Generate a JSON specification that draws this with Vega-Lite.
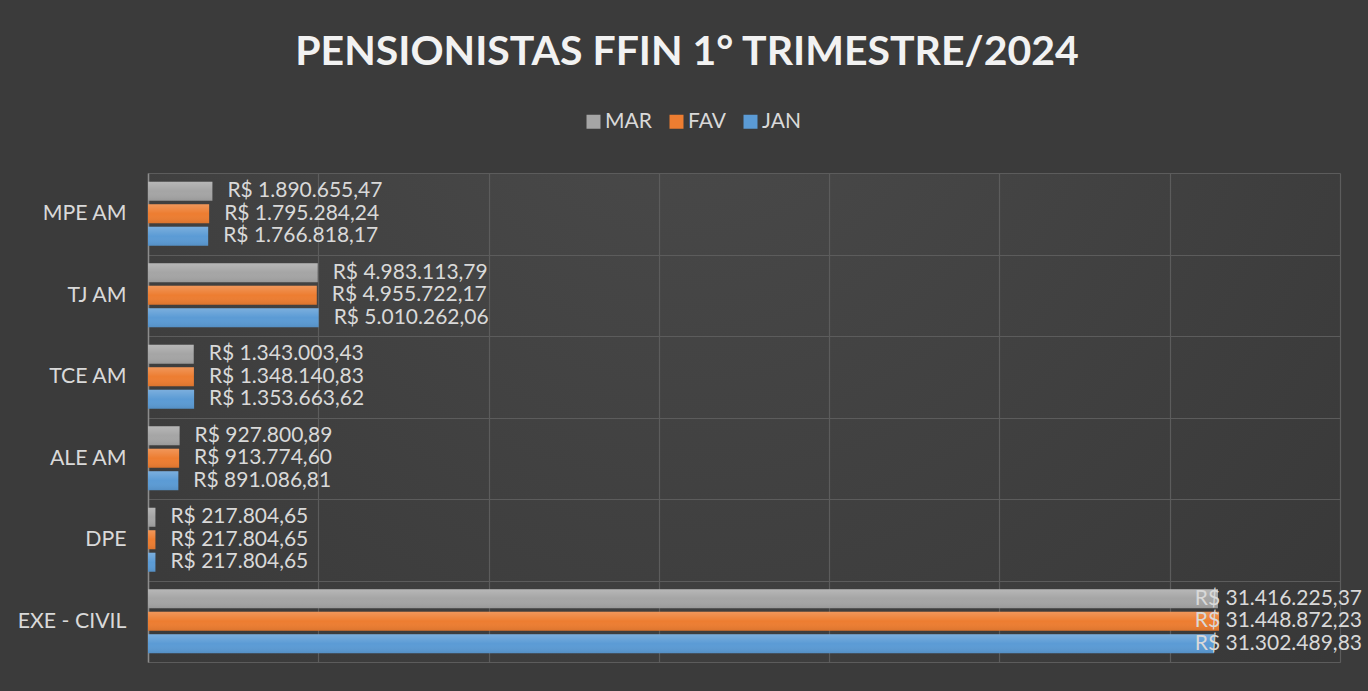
{
  "$schema": "https://vega.github.io/schema/vega-lite/v6.json",
  "width": 1192,
  "height": 489,
  "autosize": {"type": "none"},
  "padding": {"left": 148, "top": 173, "right": 28, "bottom": 29},
  "background": "#3b3b3b",
  "title": {
    "text": "PENSIONISTAS FFIN 1° TRIMESTRE/2024",
    "font": "Lato",
    "fontSize": 41,
    "fontWeight": "bold",
    "color": "#f2f2f2",
    "anchor": "middle",
    "frame": "group",
    "baseline": "alphabetic",
    "offset": 9,
    "dy": 4,
    "dx": -57
  },
  "data": {
    "values": [
      {"orgao": "MPE AM", "mes": "MAR", "valor": 1890655.47},
      {"orgao": "MPE AM", "mes": "FAV", "valor": 1795284.24},
      {"orgao": "MPE AM", "mes": "JAN", "valor": 1766818.17},
      {"orgao": "TJ AM", "mes": "MAR", "valor": 4983113.79},
      {"orgao": "TJ AM", "mes": "FAV", "valor": 4955722.17},
      {"orgao": "TJ AM", "mes": "JAN", "valor": 5010262.06},
      {"orgao": "TCE AM", "mes": "MAR", "valor": 1343003.43},
      {"orgao": "TCE AM", "mes": "FAV", "valor": 1348140.83},
      {"orgao": "TCE AM", "mes": "JAN", "valor": 1353663.62},
      {"orgao": "ALE AM", "mes": "MAR", "valor": 927800.89},
      {"orgao": "ALE AM", "mes": "FAV", "valor": 913774.60},
      {"orgao": "ALE AM", "mes": "JAN", "valor": 891086.81},
      {"orgao": "DPE", "mes": "MAR", "valor": 217804.65},
      {"orgao": "DPE", "mes": "FAV", "valor": 217804.65},
      {"orgao": "DPE", "mes": "JAN", "valor": 217804.65},
      {"orgao": "EXE - CIVIL", "mes": "MAR", "valor": 31416225.37},
      {"orgao": "EXE - CIVIL", "mes": "FAV", "valor": 31448872.23},
      {"orgao": "EXE - CIVIL", "mes": "JAN", "valor": 31302489.83}
    ]
  },
  "encoding": {
    "y": {
      "field": "orgao",
      "type": "nominal",
      "sort": ["MPE AM", "TJ AM", "TCE AM", "ALE AM", "DPE", "EXE - CIVIL"],
      "scale": {"paddingInner": 0, "paddingOuter": 0},
      "axis": {
        "title": null,
        "labelFont": "Lato",
        "labelFontSize": 21.3,
        "labelColor": "#d9d9d9",
        "labelPadding": 22,
        "ticks": false,
        "domain": true,
        "domainColor": "#8c8c8c",
        "domainWidth": 1.5,
        "grid": true,
        "gridColor": "#5c5c5c",
        "gridWidth": 1.2,
        "tickBand": "extent"
      }
    },
    "yOffset": {
      "field": "mes",
      "type": "nominal",
      "sort": ["MAR", "FAV", "JAN"],
      "scale": {"paddingInner": 0.155, "paddingOuter": 0.39}
    }
  },
  "layer": [
    {
      "mark": {"type": "bar", "cornerRadius": 0},
      "encoding": {
        "x": {
          "field": "valor",
          "type": "quantitative",
          "scale": {"domain": [0, 35000000], "nice": false},
          "axis": {
            "title": null,
            "labels": false,
            "ticks": false,
            "domain": true,
            "domainColor": "#5c5c5c",
            "grid": true,
            "gridColor": "#5c5c5c",
            "gridWidth": 1.2,
            "values": [0, 5000000, 10000000, 15000000, 20000000, 25000000, 30000000, 35000000]
          }
        },
        "color": {
          "field": "mes",
          "type": "nominal",
          "sort": ["MAR", "FAV", "JAN"],
          "scale": {"domain": ["MAR", "FAV", "JAN"], "range": ["#a5a5a5", "#ed7d31", "#5b9bd5"]},
          "legend": {
            "title": null,
            "orient": "none",
            "legendX": 435,
            "legendY": -62,
            "direction": "horizontal",
            "symbolType": "square",
            "symbolSize": 196,
            "symbolStrokeWidth": 0,
            "labelFont": "Lato",
            "labelFontSize": 21,
            "labelColor": "#d9d9d9",
            "labelOffset": 1,
            "columnPadding": 14
          }
        }
      }
    },
    {
      "mark": {
        "type": "bar",
        "fill": {
          "gradient": "linear",
          "x1": 0, "y1": 0, "x2": 0, "y2": 1,
          "stops": [
            {"offset": 0, "color": "rgba(255,255,255,0.2)"},
            {"offset": 0.5, "color": "rgba(255,255,255,0)"},
            {"offset": 1, "color": "rgba(0,0,0,0.08)"}
          ]
        }
      },
      "encoding": {
        "x": {"field": "valor", "type": "quantitative"}
      }
    },
    {
      "transform": [{"filter": "datum.orgao !== 'EXE - CIVIL'"}],
      "mark": {"type": "text", "align": "left", "baseline": "middle", "dx": 15, "font": "Lato", "fontSize": 21, "color": "#d9d9d9"},
      "encoding": {
        "x": {"field": "valor", "type": "quantitative"},
        "text": {"field": "valor", "type": "quantitative", "format": "$,.2f"}
      }
    },
    {
      "transform": [{"filter": "datum.orgao === 'EXE - CIVIL'"}],
      "mark": {"type": "text", "align": "right", "baseline": "middle", "dx": 22, "font": "Lato", "fontSize": 21, "color": "#d9d9d9"},
      "encoding": {
        "x": {"datum": 35000000, "type": "quantitative"},
        "text": {"field": "valor", "type": "quantitative", "format": "$,.2f"}
      }
    }
  ],
  "config": {
    "locale": {
      "number": {"decimal": ",", "thousands": ".", "grouping": [3], "currency": ["R$ ", ""]}
    },
    "view": {
      "stroke": null,
      "fill": {
        "gradient": "radial",
        "x1": 0.45, "y1": 0.15, "x2": 0.45, "y2": 0.15, "r1": 0, "r2": 0.9,
        "stops": [
          {"offset": 0, "color": "#4b4b4b"},
          {"offset": 1, "color": "#353535"}
        ]
      }
    }
  }
}
